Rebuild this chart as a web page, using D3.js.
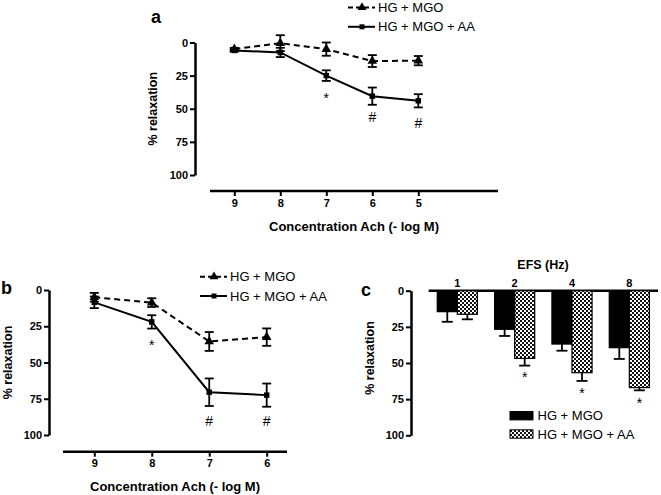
<!DOCTYPE html>
<html><head><meta charset="utf-8">
<script src="https://cdn.jsdelivr.net/npm/d3@7/dist/d3.min.js"></script>
<style>
html,body{margin:0;padding:0;background:#fff;}
svg{display:block;font-family:"Liberation Sans",Arial,sans-serif;}
</style></head>
<body>
<svg id="chart" width="661" height="495"></svg>
<script>
// ---------- DATA ----------
const yTicks = [0, 25, 50, 75, 100];
const seriesNames = ["HG + MGO", "HG + MGO + AA"];

// Panel a
const concA = ["9", "8", "7", "6", "5"];
const aMgo = [5, 0.5, 5, 14, 13.7];
const aMgoErr = [1, 6, 5, 4.5, 3.5];
const aAA = [6, 7.5, 25, 40.5, 44];
const aAAErr = [1, 3.5, 4, 6.5, 5];
const aMarks = [{x: "7", y: 40, t: "*"}, {x: "6", y: 56, t: "#"}, {x: "5", y: 61, t: "#"}];

// Panel b
const concB = ["9", "8", "7", "6"];
const bMgo = [5, 8.7, 35.5, 32.5];
const bMgoErr = [3, 3, 6.5, 6];
const bAA = [8.5, 22, 70.5, 72.5];
const bAAErr = [4, 4.6, 9.5, 8];
const bMarks = [{x: "8", y: 36, t: "*"}, {x: "7", y: 90, t: "#"}, {x: "6", y: 90, t: "#"}];

// Panel c
const efs = ["1", "2", "4", "8"];
const cMgo = [14.5, 26.7, 36.9, 39.4];
const cMgoErr = [7, 4.6, 4.6, 7.8];
const cAA = [16.3, 46.8, 56.7, 67];
const cAAErr = [3.5, 5, 5.7, 1.9];
const cMarks = [{x: "2", y: 57.6, t: "*"}, {x: "4", y: 68.7, t: "*"}, {x: "8", y: 76, t: "*"}];

// ---------- DRAW ----------
const svg = d3.select("#chart");
const defs = svg.append("defs");
const pat = defs.append("pattern").attr("id", "checker").attr("patternUnits", "userSpaceOnUse")
  .attr("width", 4).attr("height", 4);
pat.append("rect").attr("width", 4).attr("height", 4).attr("fill", "#fff");
pat.append("rect").attr("width", 2).attr("height", 2).attr("fill", "#111");
pat.append("rect").attr("x", 2).attr("y", 2).attr("width", 2).attr("height", 2).attr("fill", "#111");

function yAxis(g, y) {
  const ax = d3.axisLeft(y).tickValues(yTicks).tickSize(5).tickSizeOuter(0).tickPadding(2);
  g.call(ax);
  g.select(".domain").attr("stroke", "#000").attr("stroke-width", 2.5);
  g.selectAll(".tick line").attr("stroke", "#000").attr("stroke-width", 2);
  g.selectAll(".tick text").attr("font-size", 11).attr("font-weight", "bold").attr("fill", "#000")
    .attr("font-family", "Liberation Sans, Arial, sans-serif");
}

function linePanel(opt) {
  const {cats, s1, e1, s2, e2, marks, xr, yr, axisY, axisX0, axisX1, yAxisX, titleY, labelX, letter, letterPos, legendPos} = opt;
  const x = d3.scalePoint().domain(cats).range(xr);
  const y = d3.scaleLinear().domain([0, 100]).range(yr);
  // y axis
  svg.append("g").attr("transform", `translate(${yAxisX},0)`).call(g => yAxis(g, y));
  // x axis
  const gx = svg.append("g").attr("transform", `translate(0,${axisY})`);
  gx.call(d3.axisBottom(x).tickSize(5).tickSizeOuter(0).tickPadding(3));
  gx.select(".domain").remove();
  gx.append("line").attr("x1", axisX0).attr("x2", axisX1).attr("stroke", "#000").attr("stroke-width", 2.5);
  gx.selectAll(".tick line").attr("stroke", "#000").attr("stroke-width", 2);
  gx.selectAll(".tick text").attr("font-size", 11).attr("font-weight", "bold").attr("fill", "#000")
    .attr("font-family", "Liberation Sans, Arial, sans-serif");
  // titles
  svg.append("text").attr("x", (axisX0 + axisX1) / 2).attr("y", titleY).attr("text-anchor", "middle")
    .attr("font-size", 13).attr("font-weight", "bold").text("Concentration Ach (- log M)");
  svg.append("text").attr("transform", `translate(${labelX},${(yr[0] + yr[1]) / 2}) rotate(-90)`)
    .attr("text-anchor", "middle").attr("dy", "0.35em").attr("font-size", 12.5).attr("font-weight", "bold").text("% relaxation");
  svg.append("text").attr("x", letterPos[0]).attr("y", letterPos[1]).attr("font-size", 18).attr("font-weight", "bold").text(letter);

  const series = [
    {v: s1, e: e1, dash: "6,4", sym: d3.symbolTriangle, size: 40},
    {v: s2, e: e2, dash: null, sym: d3.symbolSquare, size: 30}
  ];
  series.forEach(s => {
    const pts = cats.map((c, i) => ({c, v: s.v[i], e: s.e[i]}));
    svg.append("path").datum(pts).attr("fill", "none").attr("stroke", "#000").attr("stroke-width", 2)
      .attr("stroke-dasharray", s.dash).attr("d", d3.line().x(d => x(d.c)).y(d => y(d.v)));
    const eb = svg.append("g").attr("stroke", "#000").attr("stroke-width", 1.8);
    pts.forEach(d => {
      const cx = x(d.c), t = y(d.v - d.e), b = y(d.v + d.e);
      eb.append("line").attr("x1", cx).attr("x2", cx).attr("y1", t).attr("y2", b);
      eb.append("line").attr("x1", cx - 4.5).attr("x2", cx + 4.5).attr("y1", t).attr("y2", t);
      eb.append("line").attr("x1", cx - 4.5).attr("x2", cx + 4.5).attr("y1", b).attr("y2", b);
    });
    svg.append("g").selectAll("path").data(pts).join("path")
      .attr("transform", d => `translate(${x(d.c)},${y(d.v)})`)
      .attr("d", d3.symbol().type(s.sym).size(s.size)).attr("fill", "#000");
  });
  marks.forEach(m => {
    svg.append("text").attr("x", x(m.x)).attr("y", y(m.y)).attr("text-anchor", "middle").attr("fill", "#000")
      .attr("dy", m.t === "*" ? "0.55em" : "0.36em").attr("font-size", 14).text(m.t);
  });
  // legend
  seriesNames.forEach((n, i) => {
    const ly = legendPos[1] + i * 19.3;
    svg.append("line").attr("x1", legendPos[0]).attr("x2", legendPos[0] + 27).attr("y1", ly).attr("y2", ly)
      .attr("stroke", "#000").attr("stroke-width", 2).attr("stroke-dasharray", i === 0 ? "5,3" : null);
    svg.append("path").attr("transform", `translate(${legendPos[0] + 14},${ly})`)
      .attr("d", d3.symbol().type(i === 0 ? d3.symbolTriangle : d3.symbolSquare).size(i === 0 ? 35 : 25));
    svg.append("text").attr("x", legendPos[0] + 30).attr("y", ly).attr("dy", "0.36em").attr("font-size", 13).text(n);
  });
}

linePanel({cats: concA, s1: aMgo, e1: aMgoErr, s2: aAA, e2: aAAErr, marks: aMarks,
  xr: [234.3, 418.3], yr: [42.5, 175], axisY: 191, axisX0: 210, axisX1: 498, yAxisX: 195,
  titleY: 231, labelX: 153, letter: "a", letterPos: [151, 23], legendPos: [348, 7.5]});

linePanel({cats: concB, s1: bMgo, e1: bMgoErr, s2: bAA, e2: bAAErr, marks: bMarks,
  xr: [94.3, 266.7], yr: [290, 435], axisY: 451.7, axisX0: 63, axisX1: 287, yAxisX: 49,
  titleY: 491, labelX: 8, letter: "b", letterPos: [1, 294], legendPos: [200, 276.7]});

// Panel c
(function () {
  const x0 = d3.scaleBand().domain(efs).range([428.65, 658]).padding(0);
  const x1 = d3.scaleBand().domain(seriesNames).range([x0.bandwidth() * 0.15, x0.bandwidth() * 0.85]);
  const y = d3.scaleLinear().domain([0, 100]).range([290.7, 435.3]);
  svg.append("g").attr("transform", "translate(411,0)").call(g => yAxis(g, y));
  const gt = svg.append("g").attr("transform", "translate(0,290.7)");
  gt.call(d3.axisTop(x0).tickSize(0).tickPadding(4));
  gt.select(".domain").remove();
  gt.append("line").attr("x1", 428.65).attr("x2", 658).attr("stroke", "#000").attr("stroke-width", 2.5);
  gt.selectAll(".tick text").attr("font-size", 11).attr("font-weight", "bold").attr("fill", "#000")
    .attr("font-family", "Liberation Sans, Arial, sans-serif");
  svg.append("text").attr("x", 543).attr("y", 269).attr("text-anchor", "middle").attr("font-size", 12.5)
    .attr("font-weight", "bold").text("EFS (Hz)");
  svg.append("text").attr("transform", "translate(370,358) rotate(-90)").attr("text-anchor", "middle")
    .attr("dy", "0.35em").attr("font-size", 12.5).attr("font-weight", "bold").text("% relaxation");
  svg.append("text").attr("x", 361).attr("y", 296).attr("font-size", 18).attr("font-weight", "bold").text("c");

  const sets = [{n: seriesNames[0], v: cMgo, e: cMgoErr, fill: "#000"}, {n: seriesNames[1], v: cAA, e: cAAErr, fill: "url(#checker)"}];
  sets.forEach(s => {
    efs.forEach((c, i) => {
      const bx = x0(c) + x1(s.n), bw = x1.bandwidth();
      const cx = bx + bw / 2, b = y(s.v[i] + s.e[i]);
      svg.append("line").attr("x1", cx).attr("x2", cx).attr("y1", y(s.v[i])).attr("y2", b).attr("stroke", "#000").attr("stroke-width", 1.8);
      svg.append("line").attr("x1", cx - 5.5).attr("x2", cx + 5.5).attr("y1", b).attr("y2", b).attr("stroke", "#000").attr("stroke-width", 1.8);
      svg.append("rect").attr("x", bx).attr("y", y(0)).attr("width", bw).attr("height", y(s.v[i]) - y(0))
        .attr("fill", s.fill).attr("stroke", "#000").attr("stroke-width", 1.2);
    });
  });
  cMarks.forEach(m => {
    svg.append("text").attr("x", x0(m.x) + x1(seriesNames[1]) + x1.bandwidth() / 2).attr("y", y(m.y)).attr("fill", "#000")
      .attr("text-anchor", "middle").attr("dy", "0.55em").attr("font-size", 14).text(m.t);
  });
  // legend
  sets.forEach((s, i) => {
    const ly = 415.7 + i * 18.3;
    svg.append("rect").attr("x", 510).attr("y", ly - 4.2).attr("width", 23).attr("height", 8.4)
      .attr("fill", s.fill).attr("stroke", "#000").attr("stroke-width", 1);
    svg.append("text").attr("x", 537.5).attr("y", ly).attr("dy", "0.36em").attr("font-size", 13).text(s.n);
  });
})();
</script>
</body></html>
